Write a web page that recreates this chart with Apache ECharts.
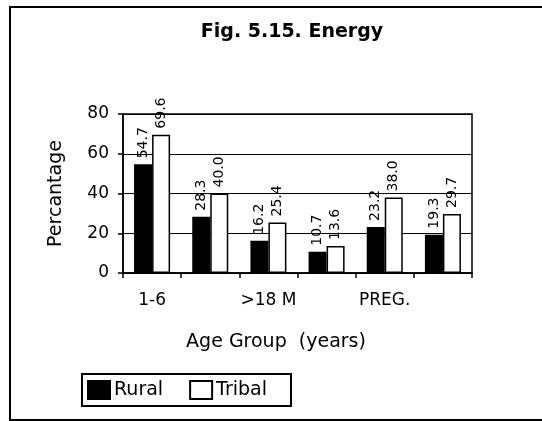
<!DOCTYPE html>
<html>
<head>
<meta charset="utf-8">
<script src="https://cdn.jsdelivr.net/npm/echarts@6/dist/echarts.min.js"></script>
<style>
html,body{margin:0;padding:0;background:#fff;}
#chart{width:542px;height:421px;}
</style>
</head>
<body>
<div id="chart"></div>
<script>
// age groups (only every other label is printed on the axis)
var ageGroups = ['1-6', '7-18', '>18 M', '>18 F', 'PREG.', 'LACT.'];
var ruralValues = [54.7, 28.3, 16.2, 10.7, 23.2, 19.3];
var tribalValues = [69.6, 40.0, 25.4, 13.6, 38.0, 29.7];
var yTicks = [0, 20, 40, 60, 80];

var fontFam = 'DejaVu Sans';
var chart = echarts.init(document.getElementById('chart'));

var valueLabel = {
	show: true,
	position: 'top',
	rotate: 90,
	align: 'left',
	verticalAlign: 'middle',
	distance: 6,
	fontFamily: fontFam,
	fontSize: 14,
	color: '#000',
	formatter: function (p) { return p.value.toFixed(1); }
};

var option = {
	animation: false,
	backgroundColor: '#fff',
	title: {
		text: 'Fig. 5.15. Energy',
		left: 287,
		top: 18,
		textAlign: 'center',
		textStyle: { fontFamily: fontFam, fontSize: 19, fontWeight: 'bold', color: '#000' }
	},
	graphic: [{
		type: 'rect',
		shape: { x: 10, y: 7, width: 545, height: 413 },
		style: { fill: 'none', stroke: '#000', lineWidth: 2 },
		silent: true
	}],
	legend: {
		left: 82,
		top: 374,
		orient: 'horizontal',
		itemWidth: 22,
		itemHeight: 18,
		itemGap: 26,
		padding: [6, 24, 6, 5],
		borderColor: '#000',
		borderWidth: 2,
		textStyle: { fontFamily: fontFam, fontSize: 19, color: '#000', padding: [0, 0, 0, -1] },
		data: [
			{ name: 'Rural', icon: 'rect' },
			{ name: 'Tribal', icon: 'rect' }
		]
	},
	grid: {
		left: 123,
		right: 70,
		top: 114,
		bottom: 148,
		show: true,
		borderColor: '#000',
		borderWidth: 1.5,
		backgroundColor: 'transparent'
	},
	xAxis: {
		type: 'category',
		data: ageGroups,
		name: 'Age Group  (years)',
		nameLocation: 'middle',
		nameGap: 60,
		nameTextStyle: { fontFamily: fontFam, fontSize: 19, color: '#000', padding: [0, 43, 0, 0] },
		axisLine: { lineStyle: { color: '#000', width: 1.5 } },
		axisTick: { show: true, interval: 0, length: 5, lineStyle: { color: '#000', width: 1.5 } },
		axisLabel: { interval: 1, margin: 19, fontFamily: fontFam, fontSize: 17, color: '#000' }
	},
	yAxis: {
		type: 'value',
		min: yTicks[0],
		max: yTicks[yTicks.length - 1],
		interval: 20,
		name: 'Percantage',
		nameLocation: 'middle',
		nameGap: 57,
		nameTextStyle: { fontFamily: fontFam, fontSize: 19, color: '#000' },
		axisLine: { show: true, lineStyle: { color: '#000', width: 1.5 } },
		axisTick: { show: true, length: 5, lineStyle: { color: '#000', width: 1.5 } },
		axisLabel: { margin: 14, fontFamily: fontFam, fontSize: 17, color: '#000' },
		splitLine: { show: true, lineStyle: { color: '#000', width: 1.2 } }
	},
	series: [{
		name: 'Rural',
		type: 'bar',
		data: ruralValues,
		barWidth: 18,
		barGap: '0%',
		itemStyle: { color: '#000', borderColor: '#000', borderWidth: 1.5 },
		label: valueLabel
	}, {
		name: 'Tribal',
		type: 'bar',
		data: tribalValues,
		barWidth: 18,
		itemStyle: { color: '#fff', borderColor: '#000', borderWidth: 1.5 },
		label: valueLabel
	}]
};
chart.setOption(option);
</script>
</body>
</html>
